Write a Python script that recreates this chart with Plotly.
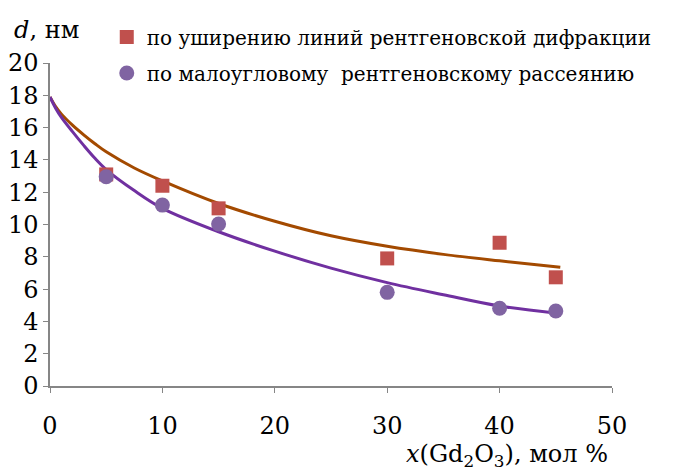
import plotly.graph_objects as go

# измеренные точки
x_pts = [5, 10, 15, 30, 40, 45]
d_xrd = [13.1, 12.4, 11.0, 7.9, 8.87, 6.73]      # по уширению линий
d_saxs = [12.96, 11.2, 10.03, 5.8, 4.81, 4.64]   # по малоугловому рассеянию

# линии тренда
trend_xrd_x = [0, 0.5, 1, 2, 3, 4, 5, 7.5, 10, 15, 20, 25, 30, 35, 40, 45.4]
trend_xrd_y = [17.9, 17.3, 16.85, 16.15, 15.55, 15.0, 14.5, 13.5, 12.7, 11.3, 10.2, 9.3, 8.65, 8.15, 7.75, 7.35]
trend_saxs_x = [0, 0.5, 1, 2, 3, 4, 5, 7.5, 10, 15, 20, 25, 30, 35, 40, 45.1]
trend_saxs_y = [17.9, 17.2, 16.65, 15.75, 14.9, 14.1, 13.4, 12.1, 11.0, 9.55, 8.35, 7.3, 6.4, 5.65, 4.95, 4.5]

x_ticks = [0, 10, 20, 30, 40, 50]
y_ticks = [0, 2, 4, 6, 8, 10, 12, 14, 16, 18, 20]

FONT = "DejaVu Serif"
AXIS = "#868686"

fig = go.Figure()

fig.add_trace(go.Scatter(x=trend_xrd_x, y=trend_xrd_y, mode="lines",
                         line=dict(color="#A34A00", width=3, shape="spline"),
                         showlegend=False, hoverinfo="skip"))
fig.add_trace(go.Scatter(x=trend_saxs_x, y=trend_saxs_y, mode="lines",
                         line=dict(color="#7030A0", width=3, shape="spline"),
                         showlegend=False, hoverinfo="skip"))

fig.add_trace(go.Scatter(x=x_pts, y=d_xrd, mode="markers",
                         name="по уширению линий рентгеновской дифракции",
                         marker=dict(symbol="square", size=14, color="#C0504D"),
                         legend="legend"))
fig.add_trace(go.Scatter(x=x_pts, y=d_saxs, mode="markers",
                         name="по малоугловому  рентгеновскому рассеянию",
                         marker=dict(symbol="circle", size=15, color="#8064A2"),
                         legend="legend2"))

tickfont = dict(family=FONT, size=24, color="black")
legfont = dict(family=FONT, size=20, color="black")

# страница имеет отступ 8px, поэтому поля сдвинуты
fig.update_layout(
    width=681, height=473,
    margin=dict(l=42, r=77, t=55, b=95, autoexpand=False),
    plot_bgcolor="white", paper_bgcolor="white",
    font=dict(family=FONT, size=22, color="black"),
    legend=dict(x=0.101, y=0.9387, xref="paper", yref="container",
                xanchor="left", yanchor="middle", font=legfont,
                bgcolor="rgba(0,0,0,0)"),
    legend2=dict(x=0.101, y=0.8626, xref="paper", yref="container",
                 xanchor="left", yanchor="middle", font=legfont,
                 bgcolor="rgba(0,0,0,0)"),
    xaxis=dict(range=[0, 50], tickvals=x_ticks, showline=True, linecolor=AXIS,
               linewidth=1.5, ticks="outside", ticklen=5, tickcolor=AXIS,
               showgrid=False, zeroline=False, ticklabelstandoff=12,
               tickfont=tickfont),
    yaxis=dict(range=[0, 20], tickvals=y_ticks, showline=True, linecolor=AXIS,
               linewidth=1.5, ticks="outside", ticklen=5, tickcolor=AXIS,
               showgrid=False, zeroline=False, ticklabelstandoff=0,
               tickfont=tickfont),
    annotations=[
        dict(text="<i>d</i>, нм", xref="paper", yref="paper", x=-0.0676, y=1.102,
             xanchor="left", yanchor="middle", showarrow=False,
             font=dict(family=FONT, size=24)),
        dict(text="<i>x</i>(Gd<sub>2</sub>O<sub>3</sub>), мол %", xref="paper",
             yref="paper", x=0.9964, y=-0.214, xanchor="right", yanchor="middle",
             showarrow=False, font=dict(family=FONT, size=24)),
    ],
)

fig.write_html("out.html")
